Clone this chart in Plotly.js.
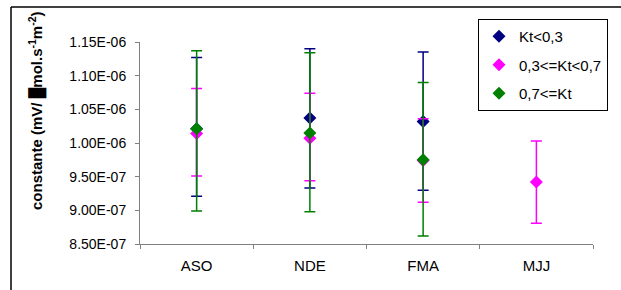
<!DOCTYPE html>
<html>
<head>
<meta charset="utf-8">
<script src="https://cdn.plot.ly/plotly-3.0.1.min.js"></script>
<style>html,body{margin:0;padding:0;background:#fff;}#chart{width:621px;height:290px;}</style>
</head>
<body>
<div id="chart"></div>
<script>
var categories = ["ASO", "NDE", "FMA", "MJJ"];
var seriesNames = ["Kt<0,3", "0,3<=Kt<0,7", "0,7<=Kt"];
var seriesColors = ["#000080", "#FF00FF", "#008000"];

var ktLowValues   = [1.021e-6, 1.037e-6, 1.032e-6, null];
var ktLowUpper    = [1.127e-6, 1.140e-6, 1.135e-6, null];
var ktLowLower    = [0.921e-6, 0.933e-6, 0.930e-6, null];

var ktMidValues   = [1.014e-6, 1.007e-6, 0.974e-6, 0.942e-6];
var ktMidUpper    = [1.081e-6, 1.074e-6, 1.036e-6, 1.003e-6];
var ktMidLower    = [0.951e-6, 0.944e-6, 0.912e-6, 0.881e-6];

var ktHighValues  = [1.021e-6, 1.015e-6, 0.975e-6, null];
var ktHighUpper   = [1.137e-6, 1.134e-6, 1.090e-6, null];
var ktHighLower   = [0.899e-6, 0.898e-6, 0.862e-6, null];

var yTickVals = [8.5e-7, 9.0e-7, 9.5e-7, 1.0e-6, 1.05e-6, 1.10e-6, 1.15e-6];
var yTickText = ["8.50E-07", "9.00E-07", "9.50E-07", "1.00E-06", "1.05E-06", "1.10E-06", "1.15E-06"];

function diff(a, b) { return a.map(function (v, i) { return (v === null || b[i] === null) ? null : Math.abs(v - b[i]); }); }

var sets = [
  [ktLowValues, ktLowUpper, ktLowLower],
  [ktMidValues, ktMidUpper, ktMidLower],
  [ktHighValues, ktHighUpper, ktHighLower]
];

var traces = sets.map(function (s, i) {
  return {
    type: "scatter",
    mode: "markers",
    name: seriesNames[i],
    legendgroup: "g" + i,
    x: categories,
    y: s[0],
    marker: { symbol: "diamond", size: 10, color: seriesColors[i] },
    error_y: {
      type: "data",
      symmetric: false,
      array: diff(s[1], s[0]),
      arrayminus: diff(s[0], s[2]),
      color: seriesColors[i],
      thickness: 1.5,
      width: 5.5
    }
  };
});

var L = 140, R = 28, T = 42, B = 46;
var pw = 621 - L - R, ph = 290 - T - B;
function px(xp) { return (xp - L) / pw; }
function py(yp) { return (290 - B - yp) / ph; }

var layout = {
  width: 621, height: 290,
  margin: { l: L, r: R, t: T, b: B, pad: 0 },
  paper_bgcolor: "#fff", plot_bgcolor: "#fff",
  font: { family: "Arial, Liberation Sans, sans-serif", color: "#000", size: 14 },
  showlegend: true,
  legend: {
    x: px(478), y: py(19), xanchor: "left", yanchor: "top",
    bgcolor: "#fff", bordercolor: "#000", borderwidth: 1,
    font: { size: 15, color: "#000" },
    tracegroupgap: 6,
    itemwidth: 30
  },
  xaxis: {
    type: "category",
    range: [-0.5, 3.5],
    showline: true, linecolor: "#808080", linewidth: 1,
    ticks: "outside", tickson: "boundaries", ticklen: 4, tickcolor: "#808080",
    showgrid: false, zeroline: false,
    tickfont: { size: 15 },
    ticklabelstandoff: 8,
    fixedrange: true
  },
  yaxis: {
    range: [8.5e-7, 1.15e-6],
    tickvals: yTickVals, ticktext: yTickText,
    showline: true, linecolor: "#808080", linewidth: 1,
    ticks: "outside", ticklen: 4, tickcolor: "#808080",
    showgrid: false, zeroline: false,
    tickfont: { size: 14 },
    ticklabelstandoff: 6,
    fixedrange: true
  },
  annotations: [{
    xref: "paper", yref: "paper",
    x: px(36), y: py(111), xanchor: "center", yanchor: "middle",
    textangle: -90, showarrow: false,
    text: "<b>constante (mV/ █mol.s<sup>-1</sup>m<sup>-2</sup>)</b>",
    font: { size: 15, color: "#000" }
  }],
  shapes: [
    { type: "line", xref: "paper", yref: "paper", x0: px(11), x1: px(630), y0: py(7), y1: py(7), line: { color: "#000", width: 1.5 } },
    { type: "line", xref: "paper", yref: "paper", x0: px(11), x1: px(11), y0: py(7), y1: py(300), line: { color: "#000", width: 1.5 } }
  ]
};

Plotly.newPlot("chart", traces, layout, { displayModeBar: false, staticPlot: true });
</script>
</body>
</html>
